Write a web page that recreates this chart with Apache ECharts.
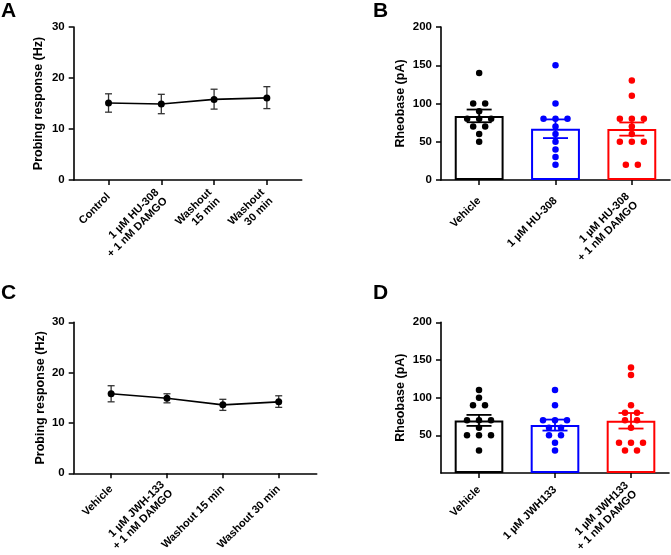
<!DOCTYPE html>
<html><head><meta charset="utf-8">
<script src="https://cdn.jsdelivr.net/npm/echarts@6/dist/echarts.min.js"></script>
<style>html,body{margin:0;padding:0;background:#fff}#c{width:671px;height:555px}</style>
</head><body><div id="c"></div>
<script>
// ---- Panel A ----
const catsA = ['Control', '1 µM HU-308\n+ 1 nM DAMGO', 'Washout\n15 min', 'Washout\n30 min'];
const meanA = [15.1, 14.9, 15.8, 16.1];
const lowA  = [13.3, 13.0, 13.9, 14.0];
const highA = [16.9, 16.8, 17.8, 18.3];
// ---- Panel C ----
const catsC = ['Vehicle', '1 µM JWH-133\n+ 1 nM DAMGO', 'Washout 15 min', 'Washout 30 min'];
const meanC = [15.8, 14.9, 13.6, 14.2];
const lowC  = [14.2, 14.0, 12.5, 13.1];
const highC = [17.4, 15.8, 14.7, 15.4];
const yTicksLine = [0, 10, 20, 30];
// ---- Panel B ----
const catsB = ['Vehicle', '1 µM HU-308', '1 µM HU-308\n+ 1 nM DAMGO'];
const meanB = [83.8, 67.0, 66.6];
const semB  = [8.3, 12.2, 8.6];
const dotsBVehicle = [140, 100, 100, 90, 80, 80, 80, 70, 70, 60, 50];
const dotsBHU      = [150, 100, 80, 80, 80, 70, 60, 50, 40, 30, 20];
const dotsBDamgo   = [130, 110, 80, 80, 80, 70, 60, 50, 50, 50, 20, 20];
const yTicksB = [0, 50, 100, 150, 200];
// ---- Panel D ----
const catsD = ['Vehicle', '1 µM JWH133', '1 µM JWH133\n+ 1 nM DAMGO'];
const meanD = [69.8, 63.6, 69.3];
const semD  = [7.3, 7.3, 10.3];
const dotsDVehicle = [110, 100, 90, 90, 70, 70, 70, 60, 50, 50, 50, 30];
const dotsDJWH     = [110, 90, 70, 70, 70, 60, 60, 50, 50, 40, 30];
const dotsDDamgo   = [140, 130, 90, 80, 80, 70, 70, 60, 40, 40, 40, 30, 30];
const yTicksD = [50, 100, 150, 200];

const groupColors = ['#000000', '#0000ff', '#ff0000'];
const FONT = 'Liberation Sans';

const chart = echarts.init(document.getElementById('c'), null, {renderer: 'canvas'});

const axisLineStyle = {show: true, onZero: false, lineStyle: {color: '#000', width: 1.6}};
const tickStyle = {show: true, inside: false, length: 5, lineStyle: {color: '#000', width: 1.5}};
const labelFont = {fontFamily: FONT, fontWeight: 'bold', fontSize: 11, color: '#000'};

function lineXAxis(grid, cats, mn, mx, margin) {
  const idx = cats.map((c, i) => i);
  return {
    gridIndex: grid, type: 'value', min: mn, max: mx,
    axisLine: axisLineStyle, splitLine: {show: false},
    axisTick: Object.assign({}, tickStyle, {customValues: idx}),
    axisLabel: Object.assign({}, labelFont, {customValues: idx, rotate: 45, margin: margin,
      verticalAlign: 'middle', lineHeight: 12, formatter: v => cats[Math.round(v)]})
  };
}
function barXAxis(grid, cats, margin) {
  return {
    gridIndex: grid, type: 'category', data: cats,
    axisLine: axisLineStyle, splitLine: {show: false},
    axisTick: Object.assign({}, tickStyle, {alignWithLabel: true}),
    axisLabel: Object.assign({}, labelFont, {rotate: 45, margin: margin, interval: 0,
      verticalAlign: 'middle', lineHeight: 12})
  };
}
function yAxis(grid, ticks, mn, mx, name, gap) {
  return {
    gridIndex: grid, type: 'value', min: mn, max: mx,
    name: name, nameLocation: 'middle', nameGap: gap,
    nameTextStyle: {fontFamily: FONT, fontWeight: 'bold', fontSize: 12.5, color: '#000'},
    axisLine: axisLineStyle, splitLine: {show: false},
    axisTick: Object.assign({}, tickStyle, {customValues: ticks}),
    axisLabel: Object.assign({}, labelFont, {fontSize: 11.5, customValues: ticks, margin: 9})
  };
}

function errLineSeries(xi, yi, lows, highs, half, color, width) {
  return {
    type: 'custom', xAxisIndex: xi, yAxisIndex: yi, z: 3,
    data: lows.map((l, i) => [i, l, highs[i]]),
    renderItem: function (params, api) {
      const p1 = api.coord([api.value(0), api.value(1)]);
      const p2 = api.coord([api.value(0), api.value(2)]);
      const st = {stroke: color, lineWidth: width};
      return {type: 'group', children: [
        {type: 'line', shape: {x1: p1[0], y1: p1[1], x2: p2[0], y2: p2[1]}, style: st},
        {type: 'line', shape: {x1: p1[0] - half, y1: p1[1], x2: p1[0] + half, y2: p1[1]}, style: st},
        {type: 'line', shape: {x1: p2[0] - half, y1: p2[1], x2: p2[0] + half, y2: p2[1]}, style: st}
      ]};
    }
  };
}

function meanLineSeries(xi, yi, means) {
  return {
    type: 'line', xAxisIndex: xi, yAxisIndex: yi, z: 4,
    data: means.map((m, i) => [i, m]),
    symbol: 'circle', symbolSize: 7, showSymbol: true,
    lineStyle: {color: '#000', width: 1.6},
    itemStyle: {color: '#000', opacity: 1}, animation: false
  };
}

function swarm(values, g, step) {
  const counts = {}, seen = {};
  values.forEach(v => { counts[v] = (counts[v] || 0) + 1; });
  return values.map(v => {
    const k = seen[v] || 0; seen[v] = k + 1;
    const dx = (k - (counts[v] - 1) / 2) * step;
    return {value: [g, v], symbolOffset: [dx, 0]};
  });
}

function barPanelSeries(xi, yi, means, sems, groups) {
  const s = [];
  s.push({
    type: 'bar', xAxisIndex: xi, yAxisIndex: yi, barWidth: '64%', z: 1,
    data: means.map((m, i) => ({value: m, itemStyle: {color: '#fff', borderColor: groupColors[i], borderWidth: 2}})),
    animation: false
  });
  groups.forEach((vals, g) => {
    s.push({
      type: 'scatter', xAxisIndex: xi, yAxisIndex: yi, z: 2,
      symbol: 'circle', symbolSize: 6.5,
      itemStyle: {color: groupColors[g], opacity: 1},
      data: swarm(vals, g, 12), animation: false
    });
  });
  means.forEach((m, g) => {
    s.push({
      type: 'custom', xAxisIndex: xi, yAxisIndex: yi, z: 3,
      data: [[g, m - sems[g], m + sems[g]]],
      renderItem: function (params, api) {
        const p1 = api.coord([api.value(0), api.value(1)]);
        const p2 = api.coord([api.value(0), api.value(2)]);
        const half = 12.5;
        const st = {stroke: groupColors[g], lineWidth: 1.8};
        return {type: 'group', children: [
          {type: 'line', shape: {x1: p1[0], y1: p1[1], x2: p2[0], y2: p2[1]}, style: st},
          {type: 'line', shape: {x1: p1[0] - half, y1: p1[1], x2: p1[0] + half, y2: p1[1]}, style: st},
          {type: 'line', shape: {x1: p2[0] - half, y1: p2[1], x2: p2[0] + half, y2: p2[1]}, style: st}
        ]};
      }
    });
  });
  return s;
}

const letterStyle = {fontFamily: FONT, fontWeight: 'bold', fontSize: 21, fill: '#000'};
const option = {
  backgroundColor: '#fff',
  animation: false,
  grid: [
    {left: 73.7, top: 27, width: 228, height: 153},
    {left: 441, top: 27, width: 229, height: 153},
    {left: 73.7, top: 322.3, width: 243, height: 151},
    {left: 441, top: 322.3, width: 228, height: 151}
  ],
  xAxis: [
    lineXAxis(0, catsA, -0.66, 3.66, 15),
    barXAxis(1, catsB, 19),
    lineXAxis(2, catsC, -0.67, 3.68, 14),
    barXAxis(3, catsD, 15)
  ],
  yAxis: [
    yAxis(0, yTicksLine, 0, 30, 'Probing response (Hz)', 29),
    yAxis(1, yTicksB, 0, 200, 'Rheobase (pA)', 34),
    yAxis(2, yTicksLine, 0, 30, 'Probing response (Hz)', 27),
    yAxis(3, yTicksD, 0, 200, 'Rheobase (pA)', 34)
  ],
  graphic: [
    {type: 'text', left: 1, top: 1, style: Object.assign({text: 'A'}, letterStyle)},
    {type: 'text', left: 373, top: 1, style: Object.assign({text: 'B'}, letterStyle)},
    {type: 'text', left: 1, top: 283, style: Object.assign({text: 'C'}, letterStyle)},
    {type: 'text', left: 373, top: 283, style: Object.assign({text: 'D'}, letterStyle)}
  ],
  series: [].concat(
    [errLineSeries(0, 0, lowA, highA, 3.5, '#333', 1.3), meanLineSeries(0, 0, meanA)],
    barPanelSeries(1, 1, meanB, semB, [dotsBVehicle, dotsBHU, dotsBDamgo]),
    [errLineSeries(2, 2, lowC, highC, 3.5, '#333', 1.3), meanLineSeries(2, 2, meanC)],
    barPanelSeries(3, 3, meanD, semD, [dotsDVehicle, dotsDJWH, dotsDDamgo])
  )
};
chart.setOption(option);
</script>
</body></html>
